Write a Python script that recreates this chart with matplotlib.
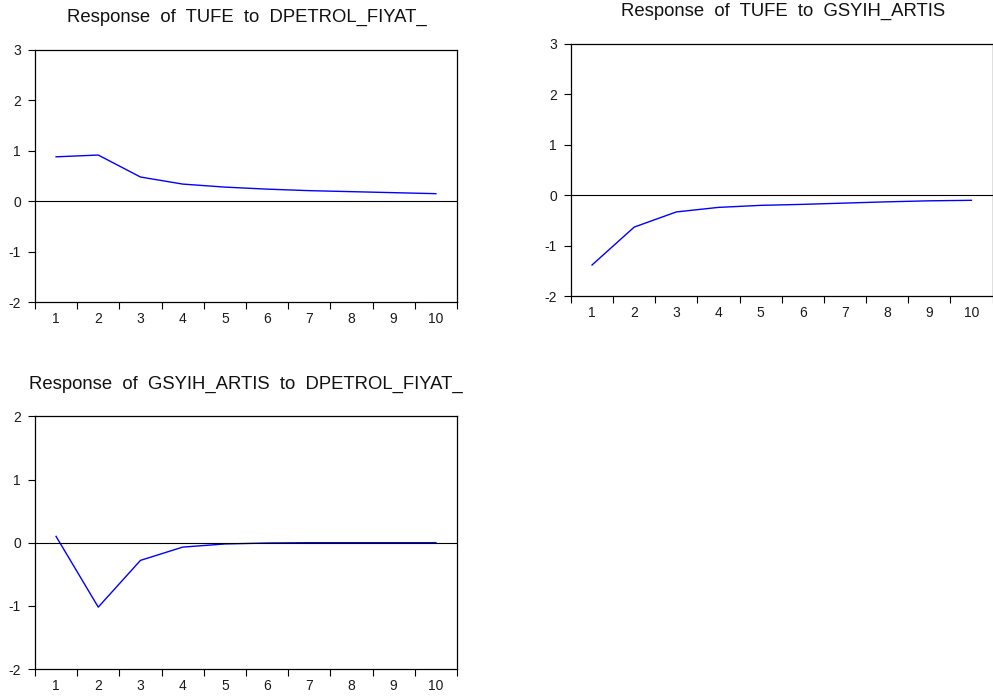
"""
Impulse responses (EViews style) for TUFE, GSYIH_ARTIS and DPETROL_FIYAT_.
"""

import numpy as np
import matplotlib
matplotlib.use("Agg")
import matplotlib.pyplot as plt

plt.rcParams['font.family'] = ['Liberation Sans', 'DejaVu Sans']
plt.rcParams['axes.unicode_minus'] = False

periods = [1, 2, 3, 4, 5, 6, 7, 8, 9, 10]

tufe_to_petrol = [0.88, 0.915, 0.48, 0.34, 0.28, 0.24, 0.21, 0.19, 0.17, 0.15]
tufe_to_gsyih = [-1.38, -0.63, -0.33, -0.24, -0.20, -0.18, -0.155, -0.13, -0.11, -0.10]
gsyih_to_petrol = [0.10, -1.02, -0.28, -0.07, -0.02, -0.005, 0.0, 0.0, 0.0, 0.0]

titles = [
    'Response  of  TUFE  to  DPETROL_FIYAT_',
    'Response  of  TUFE  to  GSYIH_ARTIS',
    'Response  of  GSYIH_ARTIS  to  DPETROL_FIYAT_',
]
ylims = [(-2, 3), (-2, 3), (-2, 2)]

W, H = 993, 698


def panel(fig, rect, values, ylim):
    ax = fig.add_axes(rect)
    ax.plot(periods, values, color='#0000ff', linewidth=1.0)
    ax.axhline(0, color='black', linewidth=0.8)
    ax.set_xlim(0.5, 10.5)
    ax.set_ylim(*ylim)
    ax.set_yticks(np.arange(ylim[0], ylim[1] + 1))
    ax.set_xticks(periods)
    ax.set_xticks(np.arange(0.5, 11, 1.0), minor=True)
    ax.tick_params(axis='x', which='major', length=0, labelsize=10, pad=7,
                   labelcolor='#1a1a1a')
    ax.tick_params(axis='x', which='minor', length=5, width=0.8, direction='out')
    ax.tick_params(axis='y', length=5, width=0.8, labelsize=10, pad=5,
                   labelcolor='#1a1a1a')
    for s in ax.spines.values():
        s.set_linewidth(0.9)
    return ax


fig = plt.figure(figsize=(W / 100, H / 100), dpi=100)

panel(fig, [0.0352, 0.567, 0.425, 0.3617], tufe_to_petrol, ylims[0])
panel(fig, [0.575, 0.5755, 0.4245, 0.3619], tufe_to_gsyih, ylims[1])
panel(fig, [0.0352, 0.0415, 0.425, 0.362], gsyih_to_petrol, ylims[2])

# titles placed like the EViews output
for (tx, ty), t in zip([(247, 22), (783, 16), (246, 389)], titles):
    fig.text(tx / W, 1 - ty / H, t, ha='center', va='baseline', fontsize=13.3,
             color='#111111')

fig.savefig("out.png", dpi=100)
